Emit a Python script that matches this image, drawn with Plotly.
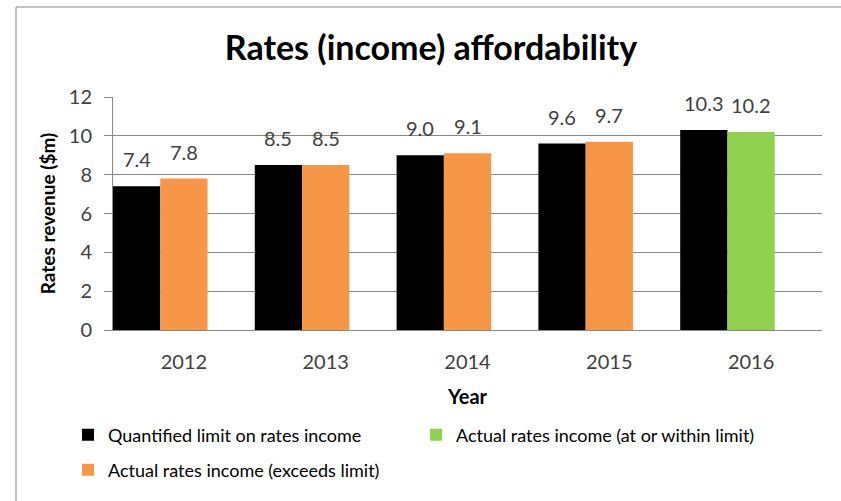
import plotly.graph_objects as go

years = ["2012", "2013", "2014", "2015", "2016"]
limit_values = [7.4, 8.5, 9.0, 9.6, 10.3]
actual_values = [7.8, 8.5, 9.1, 9.7, 10.2]
actual_status = ["exceeds", "exceeds", "exceeds", "exceeds", "within"]

series_names = {
    "limit": "Quantified limit on rates income",
    "within": "Actual rates income (at or within limit)",
    "exceeds": "Actual rates income (exceeds limit)",
}
colors = {"limit": "#000000", "within": "#92D050", "exceeds": "#F79646"}

FONT = "Lato"
TXT = "#404040"
GRID = "#898989"

fig = go.Figure()

fig.add_trace(go.Bar(
    x=years, y=limit_values, name=series_names["limit"],
    marker=dict(color=colors["limit"], line=dict(width=0)),
    offset=-0.5, width=1/3, legend="legend",
))

for status, leg in [("within", "legend"), ("exceeds", "legend2")]:
    xs = [y for y, s in zip(years, actual_status) if s == status]
    vs = [v for v, s in zip(actual_values, actual_status) if s == status]
    fig.add_trace(go.Bar(
        x=xs, y=vs, name=series_names[status],
        marker=dict(color=colors[status], line=dict(width=0)),
        offset=-1/6, width=1/3, legend=leg,
    ))

annotations = []
for i, (lv, av) in enumerate(zip(limit_values, actual_values)):
    for xpos, val in [(i - 1/3, lv), (i, av)]:
        annotations.append(dict(
            x=xpos, y=val, xref="x", yref="y", text=f"{val:.1f}",
            showarrow=False, yanchor="bottom", yshift=13,
            font=dict(family=FONT, size=20, color=TXT),
        ))

PL, PT, PW, PH = 113, 97, 709, 233

fig.update_layout(
    width=841, height=501,
    margin=dict(l=PL, r=841 - PL - PW, t=PT, b=501 - PT - PH),
    paper_bgcolor="white", plot_bgcolor="white",
    barmode="overlay",
    font=dict(family=FONT, color=TXT),
    title=dict(
        text="<b>Rates (income) affordability</b>",
        x=431 / 841, xref="container", xanchor="center",
        y=1 - 48 / 501, yref="container", yanchor="middle",
        font=dict(family=FONT, size=34, color="#000000"),
    ),
    xaxis=dict(
        type="category", categoryorder="array", categoryarray=years,
        range=[-0.5, 4.5],
        showline=True, linecolor=GRID, linewidth=1,
        ticks="", showgrid=False,
        tickfont=dict(family=FONT, size=20, color=TXT),
        ticklabelstandoff=14,
        title=dict(text="<b>Year</b>", standoff=17,
                   font=dict(family=FONT, size=20, color="#000000")),
    ),
    yaxis=dict(
        range=[0, 12], dtick=2, tick0=0,
        showline=True, linecolor=GRID, linewidth=1,
        showgrid=True, gridcolor=GRID, gridwidth=1,
        zeroline=False,
        ticks="outside", ticklen=8, tickcolor=GRID,
        tickfont=dict(family=FONT, size=20, color=TXT),
        ticklabelstandoff=8,
        title=dict(text="<b>Rates revenue ($m)</b>", standoff=8,
                   font=dict(family=FONT, size=19, color="#000000")),
    ),
    legend=dict(
        orientation="h", x=(68 - PL) / PW, xanchor="left",
        y=(PT + PH - 435) / PH, yanchor="middle",
        entrywidth=303, entrywidthmode="pixels",
        font=dict(family=FONT, size=18, color="#000000"),
        bgcolor="rgba(0,0,0,0)", traceorder="normal",
    ),
    legend2=dict(
        orientation="h", x=(68 - PL) / PW, xanchor="left",
        y=(PT + PH - 470) / PH, yanchor="middle",
        font=dict(family=FONT, size=18, color="#000000"),
        bgcolor="rgba(0,0,0,0)",
    ),
    annotations=annotations,
    shapes=[
        dict(type="line", xref="paper", yref="paper",
             x0=(16 - PL) / PW, x1=(16 - PL) / PW,
             y0=(PT + PH - 505) / PH, y1=(PT + PH - 7) / PH,
             line=dict(color="#8a8a8a", width=1), layer="below"),
        dict(type="line", xref="paper", yref="paper",
             x0=(16 - PL) / PW, x1=(845 - PL) / PW,
             y0=(PT + PH - 7) / PH, y1=(PT + PH - 7) / PH,
             line=dict(color="#8a8a8a", width=1), layer="below"),
    ],
)

fig.write_html("out.html")
